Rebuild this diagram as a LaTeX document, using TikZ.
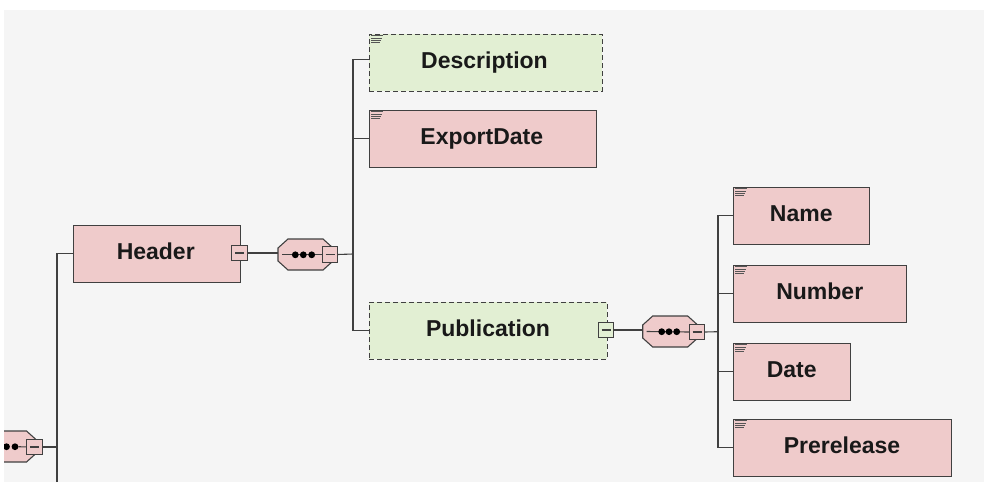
\documentclass[tikz,border=0pt]{standalone}
\usepackage{fontspec}
\setmainfont{Liberation Sans}
\definecolor{bgc}{HTML}{F5F5F5}
\definecolor{pinkc}{HTML}{EFCBCB}
\definecolor{greenc}{HTML}{E2EFD3}
\definecolor{linec}{HTML}{404040}
\definecolor{iconc}{HTML}{555555}
\newcommand{\boxicon}[1]{%
  \foreach \dy/\w in {1.8/12,4/11,6.2/10,8.4/9}
    \draw[iconc,line width=0.9pt] ([xshift=2pt,yshift=-\dy pt]#1.north west) -- ++(\w pt,0);}
\newcommand{\octagon}[1]{%
  \draw[draw=linec,fill=pinkc,line width=1.1pt]
    ([xshift=10pt]#1.north west) -- ([xshift=-10pt]#1.north east)
    -- ([yshift=-9pt]#1.north east) -- ([yshift=9pt]#1.south east)
    -- ([xshift=-10pt]#1.south east) -- ([xshift=10pt]#1.south west)
    -- ([yshift=9pt]#1.south west) -- ([yshift=-9pt]#1.north west) -- cycle;}
\begin{document}
\begin{tikzpicture}[x=1pt,y=-1pt,
  every node/.style={inner sep=0pt,outer sep=0pt},
  box/.style={draw=linec,line width=1pt,anchor=north west,minimum height=57pt,text height=13.5pt,text depth=2pt,font=\bfseries\fontsize{23}{26}\selectfont,text=black!90},
  elem/.style={box,fill=pinkc},
  optel/.style={box,fill=greenc,dash pattern=on 5pt off 3pt},
  conn/.style={draw=linec,line width=1.1pt},
  tog/.style={draw=linec,line width=1.1pt,minimum width=15.5pt,minimum height=15.5pt,anchor=center},
  pinktog/.style={tog,fill=pinkc},
  greentog/.style={tog,fill=greenc},
  seqbox/.style={minimum width=55pt,minimum height=31pt},
  dotc/.style={circle,fill=black,minimum size=6.8pt}]
\useasboundingbox (0,0) rectangle (984,482);
\fill[white] (0,0) rectangle (984,482);
\fill[bgc] (4,10) rectangle (984,482);
% named points
\coordinate (trunkB) at (57,482);
\coordinate (bus1) at (353,254);
\coordinate (bus2) at (718,331.7);
% boxes
\node[elem,minimum width=167.5pt] (header) at (73,225) {Header\kern2pt};
\node[optel,minimum width=233pt] (desc) at (369,34) {Description\kern2pt};
\node[elem,minimum width=227.5pt] (export) at (369,110) {ExportDate\kern2pt};
\node[optel,minimum width=238pt] (pub) at (369,302) {Publication};
\node[elem,minimum width=136.5pt] (name) at (733,187) {Name};
\node[elem,minimum width=173.5pt] (number) at (733,265) {Number};
\node[elem,minimum width=117.5pt] (date) at (733,343) {Date};
\node[elem,minimum width=218pt] (pre) at (733,419) {Prerelease};
\foreach \n in {desc,export,name,number,date,pre} {\boxicon{\n}}
% sequence compositors
\begin{scope}
\clip (4,10) rectangle (984,482);
\node[seqbox] (seqA) at (9,446.5) {};
\octagon{seqA}
\node[dotc] (dA2) at (6.5,446.7) {};
\node[dotc] (dA3) at (15,446.7) {};
\end{scope}
\node[pinktog] (togA) at (34.3,447) {};
\draw[conn] (dA3) -- (togA);
\node[seqbox] (seqB) at (305.5,254.5) {};
\octagon{seqB}
\node[pinktog] (togB) at (330,254.5) {};
\draw[conn] ([xshift=4pt]seqB.west) -- (togB.west);
\node[dotc] at (295.3,254.8) {};
\node[dotc] at (303.3,254.8) {};
\node[dotc] at (311.7,254.8) {};
\node[seqbox] (seqC) at (670.2,331.5) {};
\octagon{seqC}
\node[pinktog] (togC) at (697,332) {};
\draw[conn] ([xshift=4pt]seqC.west) -- (togC.west);
\node[dotc] at (661.7,331.7) {};
\node[dotc] at (669,331.7) {};
\node[dotc] at (676.7,331.7) {};
\node[pinktog] (togH) at (239.5,253) {};
\node[greentog] (togP) at (606,330) {};
\foreach \t in {togH,togP,togA,togB,togC} {\draw[conn,line width=1.1pt] ([xshift=-4.5pt]\t.center) -- ([xshift=4.5pt]\t.center);}
% connectors
\draw[conn] (togH.east) -- (togH.east -| seqB.west);
\draw[conn] (togP.east) -- (togP.east -| seqC.west);
\draw[conn] (togA.east) -- (togA.east -| trunkB);
\draw[conn] (trunkB) |- (header.west);
\draw[conn] (togB.east) -- (bus1);
\draw[conn] (togC.east) -- (bus2);
\draw[conn] (pub.west) -| (bus1) |- ([yshift=3pt]desc.west);
\draw[conn] (export.west) -- (export.west -| bus1);
\draw[conn] (name.west) -| (bus2) |- (pre.west);
\draw[conn] (number.west) -- (number.west -| bus2);
\draw[conn] (date.west) -- (date.west -| bus2);
\end{tikzpicture}
\end{document}
